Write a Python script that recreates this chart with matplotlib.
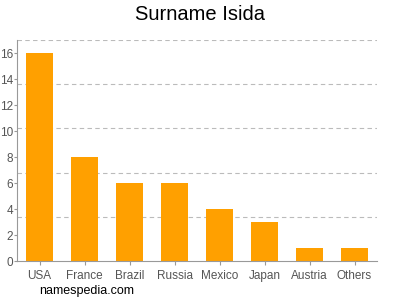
import matplotlib
matplotlib.use("Agg")
import matplotlib.pyplot as plt
import numpy as np

plt.rcParams["font.family"] = ["Liberation Sans", "DejaVu Sans"]

countries = ["USA", "France", "Brazil", "Russia", "Mexico", "Japan", "Austria", "Others"]
counts = [16, 8, 6, 6, 4, 3, 1, 1]
yticks = [0, 2, 4, 6, 8, 10, 12, 14, 16]

fig = plt.figure(figsize=(4, 3), dpi=100)
ax = fig.add_axes([17/400, 1-261/300, 360/400, 221/300])
x = np.arange(len(countries))
ax.bar(x, counts, width=0.62, color="#FFA000", zorder=2)
ax.set_xlim(-0.5, len(countries) - 0.5)
ax.set_ylim(0, 17)
ax.set_xticks(x)
ax.set_xticklabels(countries)
ax.set_yticks(yticks)
for g in np.arange(1, 6) * 17 / 5:
    ax.axhline(g, color="#bbbbbb", linestyle=(0, (4, 3)), linewidth=0.8, zorder=1)
for s in ["top", "right"]:
    ax.spines[s].set_visible(False)
for s in ["left", "bottom"]:
    ax.spines[s].set_color("#999999")
    ax.spines[s].set_linewidth(0.8)
ax.tick_params(colors="#999999", labelcolor="#555555", labelsize=8.5, length=3, width=0.8)
ax.tick_params(axis="y", length=2, pad=1)
fig.text(0.5, 1-15/300, "Surname Isida", ha="center", va="center", fontsize=14.5, color="#000000")
fig.text(39/400, 1-291/300, "namespedia.com", ha="left", va="center", fontsize=9, color="#000000")
fig.savefig("out.png", dpi=100)
